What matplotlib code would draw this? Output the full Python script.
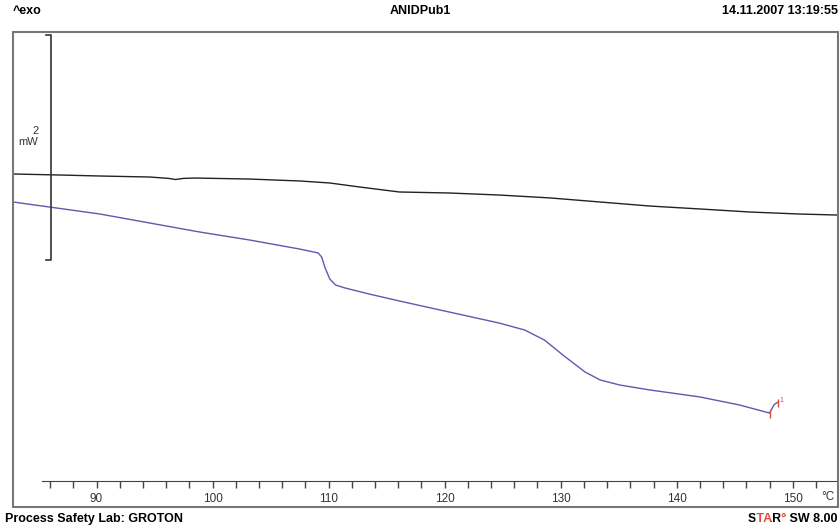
import matplotlib.pyplot as plt
from matplotlib.patches import Rectangle
from matplotlib.transforms import blended_transform_factory, Bbox

plt.rcParams['font.family'] = ['Liberation Sans', 'DejaVu Sans']

# DSC traces: temperature (°C) and heat flow (mW, arbitrary offset)
blankT = [82.8, 86.8, 90.3, 94.6, 96.2, 96.8, 97.5, 98.5, 103.2, 107.5, 110.1, 112.7,
          116.1, 120.4, 124.7, 129.1, 133.4, 137.7, 142.0, 146.3, 150.6, 153.9]
blankHF = [2.729, 2.720, 2.711, 2.702, 2.690, 2.680, 2.690, 2.693, 2.684, 2.667, 2.649,
           2.613, 2.569, 2.560, 2.542, 2.516, 2.480, 2.444, 2.418, 2.391, 2.373, 2.364]

sampleT = [82.8, 85.9, 90.3, 94.6, 98.9, 103.2, 107.5, 109.1, 109.4, 109.7, 110.1,
           110.6, 111.4, 113.5, 116.1, 120.4, 124.7, 126.9, 128.6, 130.3, 132.1,
           133.4, 135.1, 137.7, 142.0, 145.4, 148.0, 148.4, 148.7]
sampleHF = [2.480, 2.436, 2.373, 2.293, 2.213, 2.142, 2.062, 2.027, 1.991, 1.893, 1.796,
            1.742, 1.716, 1.662, 1.600, 1.502, 1.404, 1.342, 1.253, 1.111, 0.969,
            0.898, 0.853, 0.809, 0.747, 0.676, 0.604, 0.680, 0.700]

limitT = [148.0, 148.7]
limitLo = [0.56, 0.66]
limitHi = [0.63, 0.73]

scaleT = 86.1
scaleLo, scaleHi = 1.964, 3.964  # 2 mW

fig = plt.figure(figsize=(8.4, 5.29), dpi=100)
ax = fig.add_axes([13 / 840, 1 - 481 / 529, 825 / 840, 449 / 529])
ax.set_xlim(82.8, 153.9)
ax.set_ylim(0, 449 / 112.5)

ax.plot(blankT, blankHF, color='#222222', lw=1.0)
ax.plot(sampleT, sampleHF, color='#5b5bb0', lw=1.0)
ax.vlines(limitT, limitLo, limitHi, color='#e04a3a', lw=1.0)
ax.text(148.85, 0.70, '1', color='#e04a3a', fontsize=5)

# scale bar
ax.plot([scaleT - 0.45, scaleT, scaleT, scaleT - 0.45],
        [scaleHi, scaleHi, scaleLo, scaleLo], color='#333333', lw=1.2)
ax.text(85.0, 3.06, '2\nmW', ha='right', va='center', fontsize=8, color='#333333',
        linespacing=1.1)

for s in ['top', 'left', 'right']:
    ax.spines[s].set_visible(False)
ax.spines['bottom'].set_bounds(85.3, 153.9)
ax.spines['bottom'].set_color('#444444')
ax.set_yticks([])
ax.set_xticks(range(90, 151, 10))
ax.set_xticks(range(86, 154, 2), minor=True)
ax.tick_params(axis='x', which='both', direction='out', length=5, width=1,
               color='#444444', labelsize=8.5, labelcolor='#333333', pad=4)
trans = blended_transform_factory(ax.transData, ax.transAxes)
ax.text(153.6, -0.036, '°C', ha='right', va='center', fontsize=8.5, color='#333333',
        transform=trans)

fig.patches.append(Rectangle((13 / 840, 1 - 507 / 529), 825 / 840, 475 / 529,
                             transform=fig.transFigure, fill=False,
                             edgecolor='#777777', lw=1.5))

hdr = dict(fontsize=9, fontweight='bold')
fig.text(13 / 840, 1 - 11 / 529, '^exo', ha='left', va='center', **hdr)
fig.text(420 / 840, 1 - 11 / 529, 'ANIDPub1', ha='center', va='center', **hdr)
fig.text(838 / 840, 1 - 11 / 529, '14.11.2007 13:19:55', ha='right', va='center', **hdr)
fig.text(5 / 840, 1 - 522 / 529, 'Process Safety Lab: GROTON', ha='left',
         va='baseline', **hdr)

# "STAR° SW 8.00": the same string drawn in black and red, each clipped to its letters
parts = [('S', 'black'), ('TA', '#e04a3a'), ('R', 'black'), ('°', '#e04a3a'),
         (' SW 8.00', 'black')]
renderer = fig.canvas.get_renderer()
ybase = 1 - 522 / 529
full = ''.join(s for s, _ in parts)


def text_width(s):
    t = fig.text(0, ybase, s, va='baseline', **hdr)
    w = t.get_window_extent(renderer).width
    t.remove()
    return w


x0 = 838 - text_width(full)
prefix = ''
left = -50
for i, (s, c) in enumerate(parts):
    prefix += s
    right = text_width(prefix) - 2.0 if i < len(parts) - 1 else 1000
    t = fig.text(838 / 840, ybase, full, color=c, ha='right', va='baseline', **hdr)
    t.set_clip_box(Bbox.from_extents(x0 + left, 0, x0 + right, 529))
    left = right

fig.savefig('out.png', dpi=100)
